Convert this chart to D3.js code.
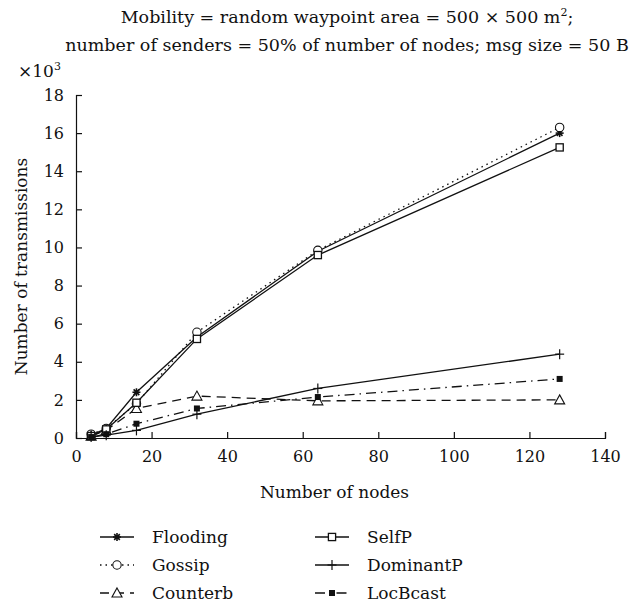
<!DOCTYPE html>
<html>
<head>
<meta charset="utf-8">
<script src="https://cdn.jsdelivr.net/npm/d3@7"></script>
<style>
  html, body { margin: 0; padding: 0; background: #fff; }
</style>
</head>
<body>
<svg id="chart" width="639" height="607"></svg>
<script>
// Number of nodes on the x axis
const nodes = [4, 8, 16, 32, 64, 128];

// Number of transmissions, in thousands
const flooding  = [0.15, 0.5, 2.4, 5.3, 9.8, 16.0];
const gossip    = [0.2, 0.5, 1.8, 5.55, 9.85, 16.3];
const counterb  = [0.1, 0.4, 1.55, 2.2, 1.95, 2.0];
const selfP     = [0.1, 0.45, 1.85, 5.2, 9.6, 15.25];
const dominantP = [0.05, 0.15, 0.4, 1.25, 2.6, 4.4];
const locBcast  = [0.05, 0.2, 0.75, 1.55, 2.15, 3.1];

const xTicks = [0, 20, 40, 60, 80, 100, 120, 140];
const yTicks = [0, 2, 4, 6, 8, 10, 12, 14, 16, 18];

const seriesNames = ["Flooding", "Gossip", "Counterb", "SelfP", "DominantP", "LocBcast"];

const FONT = "'DejaVu Serif', 'Times New Roman', 'Liberation Serif', 'Noto Serif', serif";

const svg = d3.select("#chart").attr("font-family", FONT);
const margin = { left: 76, right: 34, top: 95, bottom: 169 };
const W = 639, H = 607;

const x = d3.scaleLinear().domain([0, 140]).range([margin.left, W - margin.right]);
const y = d3.scaleLinear().domain([0, 18]).range([H - margin.bottom, margin.top]);

function txt(sel, size = 17) {
  return sel.attr("font-family", FONT).attr("font-size", size).attr("fill", "#111");
}

// Title
txt(svg.append("text"), 17.5).attr("x", 347).attr("y", 23).attr("text-anchor", "middle")
  .html('Mobility = random waypoint area = 500 × 500 m<tspan dy="-7" font-size="11">2</tspan><tspan dy="7">;</tspan>');
txt(svg.append("text"), 17.5).attr("x", 347).attr("y", 51).attr("text-anchor", "middle")
  .text("number of senders = 50% of number of nodes; msg size = 50 B");

// Axes with inward ticks
const xAxis = svg.append("g").attr("transform", `translate(0,${y(0)})`)
  .call(d3.axisBottom(x).tickValues(xTicks).tickSize(-6).tickPadding(10).tickSizeOuter(-6));
const yAxis = svg.append("g").attr("transform", `translate(${x(0)},0)`)
  .call(d3.axisLeft(y).tickValues(yTicks).tickSize(-6).tickPadding(12).tickSizeOuter(-6));
[xAxis, yAxis].forEach(g => {
  g.attr("font-family", FONT).attr("font-size", 16);
  g.selectAll("path,line").attr("stroke", "#111").attr("stroke-width", 1.2);
  g.selectAll("text").attr("fill", "#111");
});
xAxis.selectAll("text").attr("dy", "0.9em");

// Scale factor
txt(svg.append("text")).attr("x", 18).attr("y", 77)
  .html('×10<tspan dy="-7" font-size="11">3</tspan>');

// Axis titles
txt(svg.append("text")).attr("x", x(70) - 6).attr("y", 498).attr("text-anchor", "middle")
  .text("Number of nodes");
txt(svg.append("text")).attr("transform", `translate(27,${y(9)}) rotate(-90)`)
  .attr("text-anchor", "middle").text("Number of transmissions");

// Marker drawers
function star(g, cx, cy) {
  const r = 4;
  for (let i = 0; i < 4; i++) {
    const a = i * Math.PI / 4;
    g.append("line").attr("x1", cx - r * Math.cos(a)).attr("y1", cy - r * Math.sin(a))
      .attr("x2", cx + r * Math.cos(a)).attr("y2", cy + r * Math.sin(a))
      .attr("stroke", "#111").attr("stroke-width", 1.6);
  }
  g.append("circle").attr("cx", cx).attr("cy", cy).attr("r", 2).attr("fill", "#111");
}
function circle(g, cx, cy) {
  g.append("circle").attr("cx", cx).attr("cy", cy).attr("r", 4.2)
    .attr("fill", "#fff").attr("stroke", "#111").attr("stroke-width", 1.1);
}
function triangle(g, cx, cy) {
  g.append("path").attr("d", `M${cx},${cy - 5}L${cx + 5},${cy + 4}L${cx - 5},${cy + 4}Z`)
    .attr("fill", "#fff").attr("stroke", "#111").attr("stroke-width", 1.1);
}
function square(g, cx, cy) {
  g.append("rect").attr("x", cx - 3.6).attr("y", cy - 3.6).attr("width", 7.2).attr("height", 7.2)
    .attr("fill", "#fff").attr("stroke", "#111").attr("stroke-width", 1.3);
}
function plus(g, cx, cy) {
  g.append("line").attr("x1", cx - 4.5).attr("x2", cx + 4.5).attr("y1", cy).attr("y2", cy)
    .attr("stroke", "#111").attr("stroke-width", 1.2);
  g.append("line").attr("x1", cx).attr("x2", cx).attr("y1", cy - 5).attr("y2", cy + 5)
    .attr("stroke", "#111").attr("stroke-width", 1.2);
}
function filledSquare(g, cx, cy) {
  g.append("rect").attr("x", cx - 3).attr("y", cy - 3).attr("width", 6).attr("height", 6)
    .attr("fill", "#111");
}

const series = [
  { name: seriesNames[0], values: flooding,  dash: null,          marker: star },
  { name: seriesNames[1], values: gossip,    dash: "1.5,4",       marker: circle },
  { name: seriesNames[2], values: counterb,  dash: "9,6",         marker: triangle },
  { name: seriesNames[3], values: selfP,     dash: null,          marker: square },
  { name: seriesNames[4], values: dominantP, dash: null,          marker: plus },
  { name: seriesNames[5], values: locBcast,  dash: "10,5,1.5,5",  marker: filledSquare }
];

const line = d3.line().x(d => x(d[0])).y(d => y(d[1]));
const plot = svg.append("g");
series.forEach(s => {
  const pts = nodes.map((n, i) => [n, s.values[i]]);
  plot.append("path").datum(pts).attr("d", line).attr("fill", "none")
    .attr("stroke", "#111").attr("stroke-width", 1.3)
    .attr("stroke-dasharray", s.dash);
});
series.forEach(s => {
  const g = plot.append("g");
  nodes.forEach((n, i) => s.marker(g, x(n), y(s.values[i])));
});

// Legend in two columns
const legend = svg.append("g");
series.forEach((s, i) => {
  const col = Math.floor(i / 3), row = i % 3;
  const lx = col === 0 ? 100 : 315;
  const ly = 537 + row * 28;
  const g = legend.append("g");
  g.append("line").attr("x1", lx).attr("x2", lx + 34).attr("y1", ly).attr("y2", ly)
    .attr("stroke", "#111").attr("stroke-width", 1.3).attr("stroke-dasharray", s.dash);
  s.marker(g, lx + 17, ly);
  txt(g.append("text")).attr("x", lx + 52).attr("y", ly + 6).text(s.name);
});
</script>
</body>
</html>
